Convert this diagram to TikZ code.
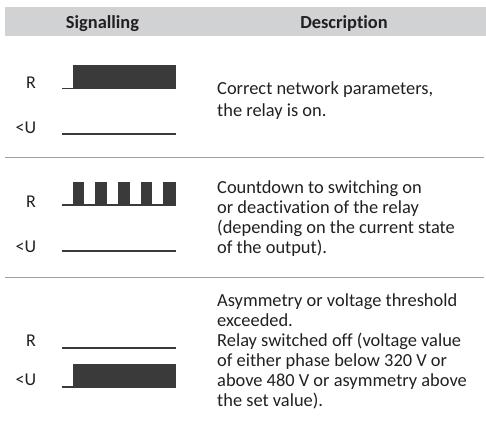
\documentclass[tikz,border=0pt]{standalone}
\usepackage{fontspec}
\setmainfont{Carlito}[Ligatures=NoCommon]
\definecolor{hdr}{HTML}{D1D2D4}
\definecolor{wave}{HTML}{3A3A3A}
\definecolor{sep}{HTML}{A0A0A0}
\definecolor{ink}{HTML}{231F20}
\tikzset{
  lbl/.style={anchor=base, inner sep=0pt, text=ink, font=\fontsize{18}{20}\selectfont},
  hdrtext/.style={anchor=base, inner sep=0pt, text=ink, font=\fontsize{18.4}{20}\selectfont\bfseries},
  desc/.style={anchor=base west, inner sep=0pt, text=ink, align=left},
  sepline/.style={draw=sep, line width=1pt},
  wline/.style={draw=wave, line width=1.3pt},
  wblock/.style={fill=wave}
}
\begin{document}
\begin{tikzpicture}[x=1pt,y=-1pt]
\useasboundingbox (0,0) rectangle (486,432);
% header
\fill[hdr] (5,7) rectangle (486,36);
\node[hdrtext] (h1) at (102.5,28) {Signalling};
\node[hdrtext] (h2) at (344,28) {Description};
% separators
\draw[sepline] (5,157) -- (484,157);
\draw[sepline] (5,277.5) -- (484,277.5);
% row 1
\node[lbl] (r1R) at (31,88) {R};
\node[lbl] (r1U) at (26,133) {<U};
\fill[wblock] (72.7,65) rectangle (176,89);
\draw[wline] (62,88.6) -- (73,88.6);
\draw[wline] (62,134) -- (176,134);
\node[desc, font=\fontsize{18.4}{22}\selectfont] (d1) at (217,116) {Correct network parameters,\\the relay is on.};
% row 2
\node[lbl] (r2R) at (31,207) {R};
\node[lbl] (r2U) at (26,252) {<U};
\draw[wline] (62,205) -- (176,205);
\foreach \a/\b in {72.7/84.3, 95.3/106.7, 118/130, 140.7/152, 163.3/176}
  \fill[wblock] (\a,182) rectangle (\b,205.5);
\draw[wline] (62,251) -- (176,251);
\node[desc, font=\fontsize{18.4}{20}\selectfont] (d2) at (217,253) {Countdown to switching on\\or deactivation of the relay\\(depending on the current state\\of the output).};
% row 3
\node[lbl] (r3R) at (31,346) {R};
\node[lbl] (r3U) at (26,385) {<U};
\draw[wline] (62,348) -- (176,348);
\fill[wblock] (72.7,364) rectangle (176,387.5);
\draw[wline] (62,387) -- (73,387);
\node[desc, font=\fontsize{18.4}{20}\selectfont] (d3) at (217,406.5) {Asymmetry or voltage threshold\\exceeded.\\Relay switched off (voltage value\\of either phase below 320 V or\\above 480 V or asymmetry above\\the set value).};
\end{tikzpicture}
\end{document}
